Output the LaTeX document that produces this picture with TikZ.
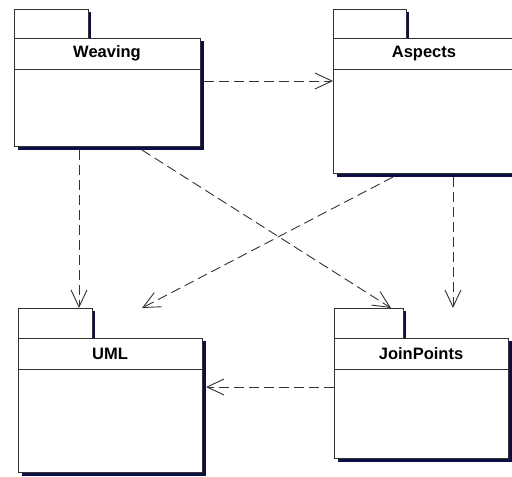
\documentclass[tikz,border=0pt]{standalone}
\usepackage{fontspec}
\setmainfont{Liberation Sans}
\usetikzlibrary{arrows.meta}
\definecolor{pkgshadow}{RGB}{14,14,70}
\definecolor{pkgline}{RGB}{50,50,50}

\begin{document}
\begin{tikzpicture}[x=1pt, y=-1pt, line width=0.9pt, >={Straight Barb[length=17pt,width=16pt]},
  box/.style={draw=pkgline, fill=white, rectangle, inner sep=0pt, outer sep=0pt, anchor=north west},
  dep/.style={->, draw=pkgline, dash pattern=on 10pt off 5pt}]

\useasboundingbox (0,0) rectangle (512,477);
\clip (0,0) rectangle (512,477);

% packages: name/left/tab top/tab right/header top/right/bottom/label
\foreach \n/\l/\tt/\tr/\h/\r/\b/\t in {weaving/14/9/88/38/200/146/Weaving,
    aspects/333/9/406/38/515/173/Aspects,
    uml/18/308/92/338/202/472/UML,
    joinpoints/334/308/403/338/508/458/JoinPoints}{
  \fill[pkgshadow] ({\tr},{\tt+3}) rectangle ({\tr+3},{\h});
  \fill[pkgshadow] ({\r},{\h+3}) rectangle ({\r+4},{\b+4});
  \fill[pkgshadow] ({\l+4},{\b}) rectangle ({\r+4},{\b+4});
  \node[box, minimum width={(\tr-\l)*1pt}, minimum height={(\h-\tt)*1pt}] (\n tab) at ({\l},{\tt}) {};
  \node[box, minimum width={(\r-\l)*1pt}, minimum height={(\b-\h)*1pt}] (\n) at ({\l},{\h}) {};
  \draw[pkgline] ({\l},{\h+31}) -- ({\r},{\h+31});
  \node[font=\bfseries\fontsize{16.5}{19}\selectfont] (\n label) at ({(\l+\r)/2},{\h+15.5}) {\t};
}

% dependencies
\draw[dep] ([shift={(4,-11)}]weaving.east) -- ([shift={(0,-24.5)}]aspects.west);
\draw[dep] ([shift={(-28,4)}]weaving.south) -- ([shift={(24,0)}]umltab.north);
\draw[dep] ([shift={(35,4)}]weaving.south) -- ([shift={(-12,0)}]joinpointstab.north east);
\draw[dep] ([shift={(-31,4)}]aspects.south) -- ([shift={(50,0)}]umltab.north east);
\draw[dep] ([shift={(29,4)}]aspects.south) -- ([shift={(50,0)}]joinpointstab.north east);
\draw[dep] ([shift={(0,-11)}]joinpoints.west) -- ([shift={(4,-18)}]uml.east);

\end{tikzpicture}
\end{document}
